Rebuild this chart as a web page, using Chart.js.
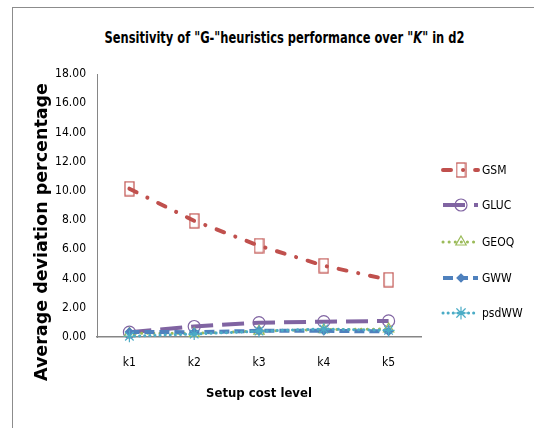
<!DOCTYPE html>
<html>
<head>
<meta charset="utf-8">
<script src="https://cdn.jsdelivr.net/npm/chart.js@4.4.1/dist/chart.umd.min.js"></script>
<style>
  html, body { margin: 0; padding: 0; background: #fff; }
  #wrap { position: relative; width: 534px; height: 428px; overflow: hidden; }
  #frame { position: absolute; left: 12px; top: 7px; width: 600px; height: 500px;
           border-left: 1px solid #8c8c8c; border-top: 1px solid #8c8c8c; }
  #title { position: absolute; left: 0; top: 29px; width: 569px; text-align: center;
           font: bold 15px "DejaVu Sans Condensed", sans-serif; color: #000;
           transform: scaleX(0.85); transform-origin: 284.5px 0; white-space: nowrap; }
  canvas { position: absolute; left: 0; top: 0; }
</style>
</head>
<body>
<div id="wrap">
  <div id="frame"></div>
  <div id="title">Sensitivity of "G-"heuristics performance over "<i>K</i>" in d2</div>
  <canvas id="chart" width="534" height="428"></canvas>
</div>
<script>
// ---- DATA ----
const levels = ['k1', 'k2', 'k3', 'k4', 'k5'];
const gsm = [10.15, 7.95, 6.25, 4.88, 3.92];
const gluc = [0.33, 0.72, 0.98, 1.05, 1.1];
const geoq = [0.25, 0.25, 0.4, 0.5, 0.55];
const gww = [0.35, 0.33, 0.42, 0.42, 0.38];
const psdww = [0.05, 0.2, 0.4, 0.55, 0.45];
const yTicks = [0, 2, 4, 6, 8, 10, 12, 14, 16, 18];

const narrow = '"DejaVu Sans Condensed", sans-serif';

// tall open rectangle marker for GSM
const rectMarker = (() => {
  const c = document.createElement('canvas');
  c.width = 11; c.height = 16;
  const x = c.getContext('2d');
  x.strokeStyle = '#C0504D';
  x.lineWidth = 1.2;
  x.strokeRect(1, 1, 9, 14);
  return c;
})();

const series = [
  { label: 'GSM', data: gsm, color: '#C0504D', width: 4, dash: [8, 12, 0.1, 12], cap: 'round',
    point: rectMarker, radius: 6, fill: 'rgba(0,0,0,0)', order: 5 },
  { label: 'GLUC', data: gluc, color: '#8064A2', width: 4, dash: [22, 9], cap: 'butt',
    point: 'circle', radius: 6, fill: 'rgba(0,0,0,0)', order: 4 },
  { label: 'GEOQ', data: geoq, color: '#9BBB59', width: 3, dash: [0.1, 6], cap: 'round',
    point: 'triangle', radius: 6, fill: 'rgba(0,0,0,0)', order: 3 },
  { label: 'GWW', data: gww, color: '#4F81BD', width: 4, dash: [10, 5], cap: 'butt',
    point: 'rectRot', radius: 4, fill: '#4F81BD', order: 2 },
  { label: 'psdWW', data: psdww, color: '#4BACC6', width: 3, dash: [0.1, 5], cap: 'round',
    point: 'star', radius: 6, fill: 'rgba(0,0,0,0)', order: 1 }
];

// ---- LEGEND + Y TITLE ----
const extras = {
  id: 'extras',
  afterDraw(chart) {
    const ctx = chart.ctx;
    ctx.save();
    // y axis title
    ctx.translate(42, 232);
    ctx.rotate(-Math.PI / 2);
    ctx.font = 'bold 17.5px "DejaVu Sans", sans-serif';
    ctx.fillStyle = '#000';
    ctx.textAlign = 'center';
    ctx.textBaseline = 'middle';
    ctx.fillText('Average deviation percentage', 0, 0);
    ctx.restore();

    // legend
    const ys = [170, 205, 242, 278, 313];
    series.forEach((s, i) => {
      const y = ys[i];
      ctx.save();
      ctx.strokeStyle = s.color;
      ctx.lineWidth = s.width;
      ctx.lineCap = s.cap;
      ctx.setLineDash(s.dash);
      ctx.beginPath();
      ctx.moveTo(443, y);
      ctx.lineTo(478, y);
      ctx.stroke();
      ctx.setLineDash([]);
      ctx.strokeStyle = s.color;
      ctx.fillStyle = s.fill;
      ctx.lineWidth = 1.2;
      Chart.helpers.drawPoint(ctx, { pointStyle: s.point, radius: s.radius, rotation: 0, borderWidth: 1.2 }, 461, y);
      ctx.fillStyle = '#000';
      ctx.font = '12px ' + narrow;
      ctx.textBaseline = 'middle';
      ctx.fillText(s.label, 482, y + 1);
      ctx.restore();
    });
  }
};

new Chart(document.getElementById('chart'), {
  type: 'line',
  data: {
    labels: levels,
    datasets: series.map(s => ({
      label: s.label,
      data: s.data,
      borderColor: s.color,
      backgroundColor: s.fill,
      borderWidth: s.width,
      borderDash: s.dash,
      borderCapStyle: s.cap,
      pointStyle: s.point,
      pointRadius: s.radius,
      pointBorderWidth: 1.2,
      pointBorderColor: s.color,
      pointBackgroundColor: s.fill,
      tension: 0,
      clip: false,
      order: s.order
    }))
  },
  options: {
    responsive: false,
    animation: false,
    layout: { padding: { left: 0, top: 74, right: 113, bottom: 27 } },
    plugins: {
      legend: { display: false },
      tooltip: { enabled: false }
    },
    scales: {
      x: {
        offset: true,
        grid: { display: false, drawTicks: false },
        border: { color: '#868686', width: 1.5 },
        ticks: { color: '#000', font: { family: narrow, size: 12 }, padding: 19 },
        title: { display: true, text: 'Setup cost level', color: '#000',
                 font: { family: narrow, size: 13, weight: 'bold' }, padding: { top: 6, bottom: 0 } },
        afterFit: s => { s.height = 428 - 337 - 27; }
      },
      y: {
        min: 0, max: 18,
        afterBuildTicks: s => { s.ticks = yTicks.map(v => ({ value: v })); },
        grid: { display: false, drawOnChartArea: false, drawTicks: true, tickLength: 5, tickColor: '#868686' },
        border: { color: '#868686', width: 1 },
        ticks: { color: '#000', font: { family: narrow, size: 12 }, padding: 6,
                 callback: v => v.toFixed(2) },
        afterFit: s => { s.width = 97; }
      }
    }
  },
  plugins: [extras]
});
</script>
</body>
</html>
